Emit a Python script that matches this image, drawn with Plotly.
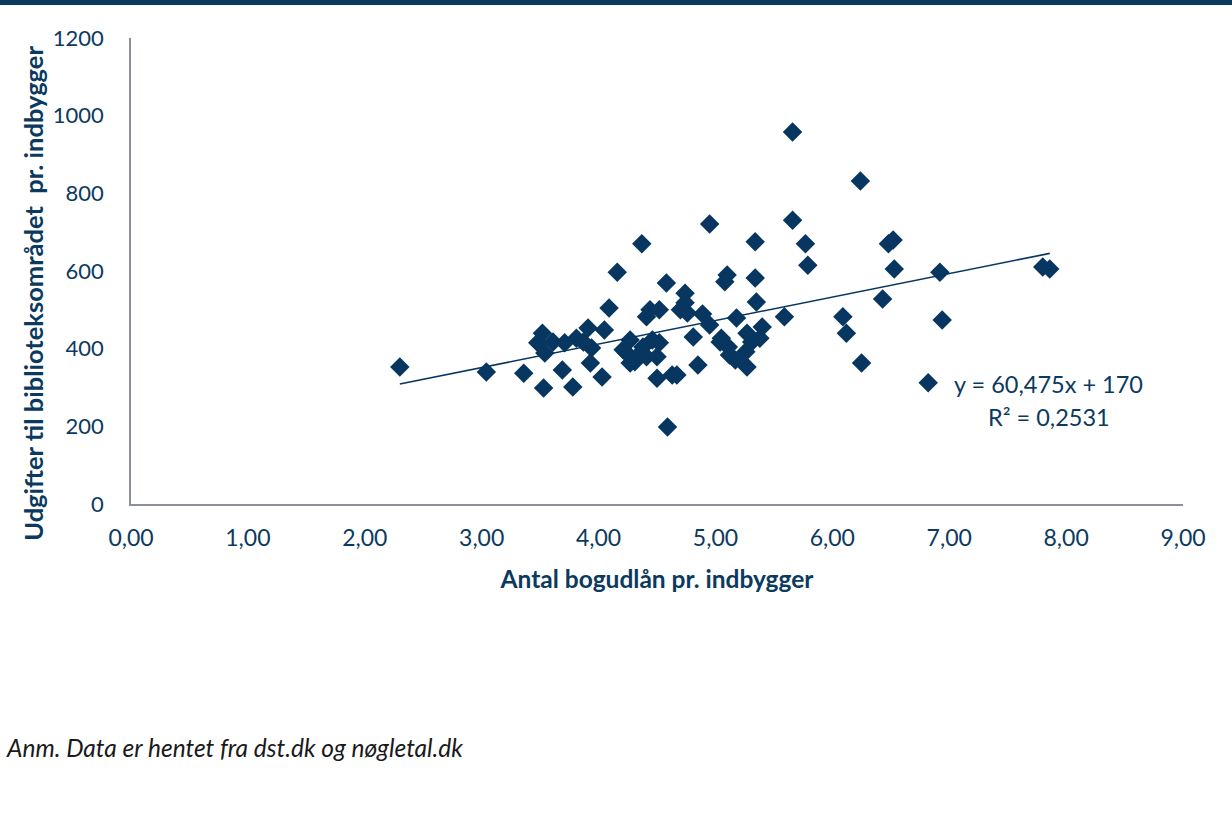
import numpy as np
import plotly.graph_objects as go

# Data (x: book loans per inhabitant, y: library spending per inhabitant)
bogudlaan = [2.30, 3.04, 3.36, 3.53, 3.52, 3.48, 3.61, 3.54, 3.69, 3.78, 3.71, 3.81, 3.91, 4.05,
             3.94, 3.87, 3.93, 4.03, 4.09, 4.16, 4.27, 4.24, 4.31, 4.21, 4.27, 4.37, 4.44, 4.52,
             4.41, 4.38, 4.46, 4.52, 4.41, 4.50, 4.50, 4.63, 4.67, 4.58, 4.74, 4.74, 4.70, 4.76,
             4.89, 4.95, 4.81, 4.85, 4.95, 5.05, 5.11, 5.04, 5.12, 5.17, 5.10, 5.08, 5.18, 5.27,
             5.31, 5.40, 5.38, 5.27, 5.34, 5.34, 5.35, 5.59, 5.66, 5.66, 5.77, 5.79, 6.09, 6.12,
             6.24, 6.25, 6.43, 6.48, 6.52, 6.53, 6.82, 6.92, 6.94, 7.80, 7.86, 4.59, 5.26, 4.34]
udgifter = [353, 340, 337, 299, 440, 415, 417, 389, 345, 301, 415, 427, 453, 448,
            402, 417, 363, 327, 505, 597, 422, 389, 366, 397, 363, 670, 500, 500,
            482, 404, 422, 415, 379, 379, 324, 332, 332, 569, 543, 518, 500, 492,
            489, 461, 430, 358, 721, 427, 404, 417, 384, 371, 590, 572, 479, 440,
            417, 456, 427, 353, 675, 582, 520, 482, 958, 731, 670, 615, 482, 440,
            832, 363, 528, 670, 680, 605, 312, 597, 474, 610, 605, 198, 392, 384]

# Trendline as stated on the chart
slope = 60.475
intercept = 170
r2_text = "0,2531"

x_ticks = [0, 1, 2, 3, 4, 5, 6, 7, 8, 9]
x_ticklabels = ["0,00", "1,00", "2,00", "3,00", "4,00", "5,00", "6,00", "7,00", "8,00", "9,00"]
y_ticks = [0, 200, 400, 600, 800, 1000, 1200]

NAVY = "#073760"
TEXT = "#0b3a5e"
FONT = "Lato"

fig = go.Figure()
fig.add_trace(go.Scatter(
    x=bogudlaan, y=udgifter, mode="markers",
    marker=dict(symbol="diamond", size=15, color=NAVY, line=dict(width=0)),
    showlegend=False, hoverinfo="x+y",
))
tx = np.array([min(bogudlaan), max(bogudlaan)])
fig.add_trace(go.Scatter(
    x=tx, y=slope * tx + intercept, mode="lines",
    line=dict(color=NAVY, width=1.6), showlegend=False, hoverinfo="skip",
))

fig.update_layout(
    width=1232, height=828,
    margin=dict(l=131, r=49, t=38, b=324),
    paper_bgcolor="white", plot_bgcolor="white",
    font=dict(family=FONT, color=TEXT),
    xaxis=dict(
        range=[0, 9], tickvals=x_ticks, ticktext=x_ticklabels,
        showgrid=False, zeroline=False, showline=True, linecolor="#8a8f98", linewidth=1.5,
        ticks="", tickfont=dict(size=23, color=TEXT, family=FONT), ticklabelstandoff=13,
        title=dict(text="<b>Antal bogudlån pr. indbygger</b>", font=dict(size=24.5, color=TEXT, family=FONT),
                   standoff=21),
    ),
    yaxis=dict(
        range=[0, 1200], tickvals=y_ticks,
        showgrid=False, zeroline=False, showline=True, linecolor="#8a8f98", linewidth=1.5,
        ticks="", tickfont=dict(size=22, color=TEXT, family=FONT), ticklabelstandoff=21,
    ),
    shapes=[dict(type="rect", xref="paper", yref="paper", x0=-0.2, x1=1.1,
                 y0=(504 + 2) / 466, y1=(504 - 5) / 466, line=dict(width=0),
                 fillcolor="#0a3a5e", layer="above")],
    annotations=[
        dict(text="<b>Udgifter til biblioteksområdet\u00a0 pr. indbygger</b>", xref="paper", yref="paper",
             x=-0.0932, y=0.453, textangle=-90, showarrow=False, xanchor="center", yanchor="middle",
             font=dict(size=25.5, color=TEXT, family=FONT)),
        dict(text=f"y = {str(slope).replace('.', ',')}x + {intercept}", xref="paper", yref="paper",
             x=0.872, y=0.2575, showarrow=False, xanchor="center", yanchor="middle",
             font=dict(size=23.5, color=TEXT, family=FONT)),
        dict(text=f"R² = {r2_text}", xref="paper", yref="paper",
             x=0.8726, y=0.1867, showarrow=False, xanchor="center", yanchor="middle",
             font=dict(size=23.5, color=TEXT, family=FONT)),
        dict(text="<i>Anm. Data er hentet fra dst.dk og nøgletal.dk</i>", xref="paper", yref="paper",
             x=-0.121, y=-0.5236, showarrow=False, xanchor="left", yanchor="middle",
             font=dict(size=24.5, color="#1a1a1a", family=FONT)),
    ],
)

fig.write_html("out.html", config={"displayModeBar": False},
               post_script="document.body.style.margin='0';")
